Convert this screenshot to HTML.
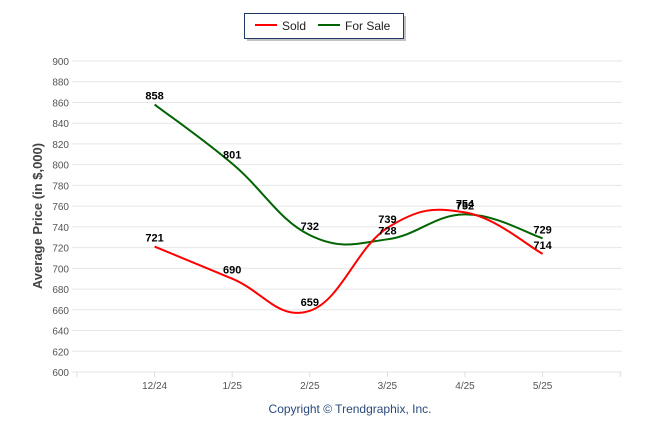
<!DOCTYPE html>
<html><head><meta charset="utf-8"><style>
body{margin:0;background:#fff;width:646px;height:434px;overflow:hidden;font-family:"Liberation Sans",sans-serif}
</style></head><body>
<svg id="chart" width="646" height="434" xmlns="http://www.w3.org/2000/svg">
<g id="grid"></g>
<g>
<rect x="247" y="16" width="159" height="25" fill="#888" opacity="0.5"/>
<rect x="244.5" y="13.5" width="159" height="25" fill="#fff" stroke="#1f3864"/>
<line x1="255" y1="25" x2="277" y2="25" stroke="#ff0000" stroke-width="2"/>
<text x="282" y="30" font-size="12" fill="#222">Sold</text>
<line x1="318" y1="25" x2="340" y2="25" stroke="#006400" stroke-width="2"/>
<text x="345" y="30" font-size="12" fill="#222">For Sale</text>
</g>
<text transform="translate(42,216) rotate(-90)" text-anchor="middle" font-size="13" font-weight="bold" fill="#444">Average Price (in $,000)</text>
<text x="350" y="413" text-anchor="middle" font-size="12" fill="#2a4a7a">Copyright © Trendgraphix, Inc.</text>
<g id="series"></g>
</svg>
<script>
const categories=["12/24","1/25","2/25","3/25","4/25","5/25"];
const soldValues=[721,690,659,739,754,714];
const forSaleValues=[858,801,732,728,752,729];
const yTicks=[600,620,640,660,680,700,720,740,760,780,800,820,840,860,880,900];
const NS="http://www.w3.org/2000/svg";
const x0=77,xStep=77.6,yTop=61,yBot=372,yMin=600,yMax=900;
const xs=i=>x0+(i+1)*xStep;
const ys=v=>yBot-(v-yMin)/(yMax-yMin)*(yBot-yTop);
function mk(t,a,p){const e=document.createElementNS(NS,t);for(const k in a)e.setAttribute(k,a[k]);p.appendChild(e);return e;}
const grid=document.getElementById('grid');
yTicks.forEach(v=>{
 const l=mk('line',{x1:72,x2:622,y1:ys(v),y2:ys(v),stroke:'#e6e6e6'},grid);
 
 
 const t=mk('text',{x:69,y:ys(v)+4,'text-anchor':'end','font-size':'10',fill:'#555'},grid);
 t.textContent=v;
 
 
});
for(let i=0;i<=7;i++){const l=mk('line',{x1:x0+i*xStep,x2:x0+i*xStep,y1:372,y2:377,stroke:'#ddd'},grid);
 
 }
categories.forEach((c,i)=>{const t=mk('text',{x:xs(i),y:389,'text-anchor':'middle','font-size':'10',fill:'#555'},grid);
 t.textContent=c;
 
 });
function path(vals){const p=vals.map((v,i)=>[xs(i),ys(v)]);let d='M'+p[0][0]+','+p[0][1];
 for(let i=0;i<p.length-1;i++){const a=p[Math.max(0,i-1)],b=p[i],c=p[i+1],e=p[Math.min(p.length-1,i+2)];
 const k=0.2;d+=' C'+(b[0]+(c[0]-a[0])*k)+','+(b[1]+(c[1]-a[1])*k)+' '+(c[0]-(e[0]-b[0])*k)+','+(c[1]-(e[1]-b[1])*k)+' '+c[0]+','+c[1];}
 return d;}
const sg=document.getElementById('series');
[[forSaleValues,'#006400','for-sale'],[soldValues,'#ff0000','sold']].forEach(([vals,col,n])=>{
 const p=mk('path',{d:path(vals),fill:'none',stroke:col,'stroke-width':2},sg);
 
 
});
[[forSaleValues,'for-sale'],[soldValues,'sold']].forEach(([vals,n])=>{
 vals.forEach((v,i)=>{const t=mk('text',{x:xs(i),y:ys(v)-5,'text-anchor':'middle','font-size':'11','font-weight':'bold',fill:'#000'},sg);
 t.textContent=v;
 
 });
});
</script>
</body></html>
